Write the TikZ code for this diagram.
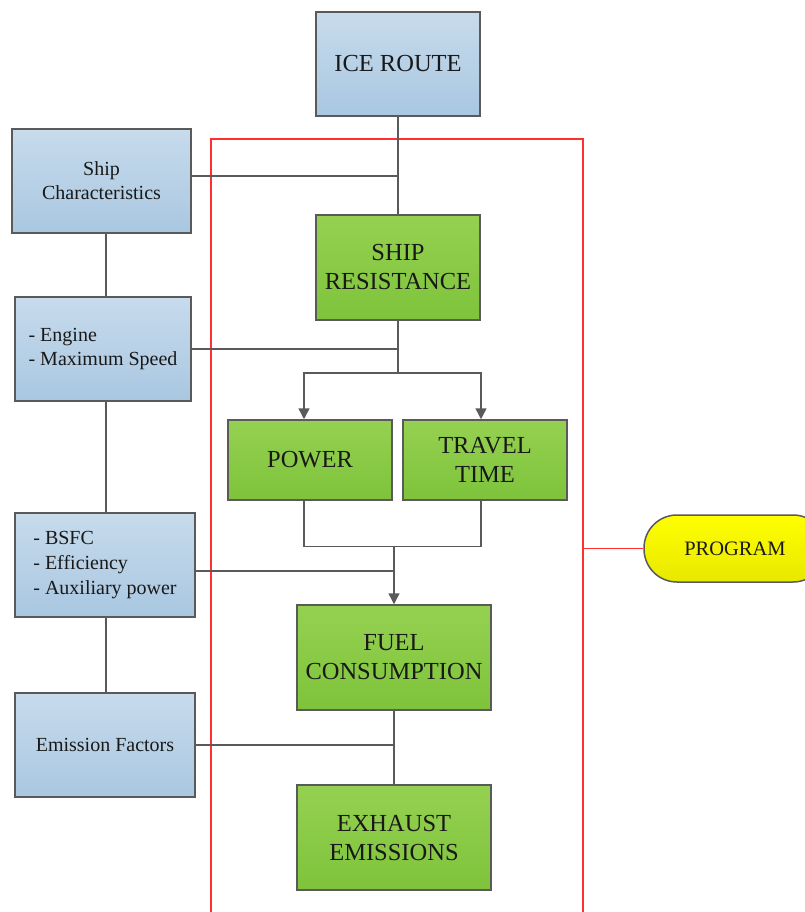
\documentclass[tikz,border=0pt]{standalone}
\usepackage{fontspec}
\setmainfont{Liberation Serif}
\usetikzlibrary{arrows.meta,calc}
\definecolor{blueT}{HTML}{C7DBEC}
\definecolor{blueB}{HTML}{A9C7E1}
\definecolor{greenT}{HTML}{95D151}
\definecolor{greenB}{HTML}{7EC33B}
\definecolor{yelT}{HTML}{FFFF00}
\definecolor{yelB}{HTML}{E8E800}
\definecolor{edge}{HTML}{5A5A5A}
\definecolor{frameRed}{HTML}{FF3030}
\tikzset{
  base/.style={draw=edge, line width=1.5pt, inner sep=2pt, text=black!90},
  bluebox/.style={base, top color=blueT, bottom color=blueB, font=\fontsize{20}{24}\selectfont},
  greenbox/.style={base, top color=greenT, bottom color=greenB, font=\fontsize{24.5}{29}\selectfont, align=center},
  conn/.style={draw=edge, line width=1.5pt},
  arr/.style={conn, -{Triangle[width=11pt,length=11pt]}},
  redline/.style={draw=frameRed, line width=1.6pt},
}
\begin{document}
\begin{tikzpicture}[x=1pt,y=-1pt]
\clip (0,0) rectangle (805,912);
\fill[white] (0,0) rectangle (805,912);
% red frame
\node[redline, minimum width=372pt, minimum height=840pt, inner sep=0pt] (frame) at (397,559) {};
% top
\node[bluebox, minimum width=164pt, minimum height=104pt, font=\fontsize{24.5}{29}\selectfont] (ice) at (398,64) {ICE ROUTE};
% left column
\node[bluebox, minimum width=179pt, minimum height=104pt, align=center] (ship) at (101.5,181) {Ship\\Characteristics};
\node[bluebox, minimum width=176pt, minimum height=104pt, align=left] (engine) at (103,349) {- Engine\\- Maximum Speed};
\node[bluebox, minimum width=180pt, minimum height=104pt, align=left, font=\fontsize{20}{25}\selectfont] (bsfc) at (105,565) {- BSFC\\- Efficiency\\- Auxiliary power};
\node[bluebox, minimum width=180pt, minimum height=104pt] (emis) at (105,745) {Emission Factors};
% green column
\node[greenbox, minimum width=164pt, minimum height=105pt] (res) at (398,267.5) {SHIP\\RESISTANCE};
\node[greenbox, minimum width=164pt, minimum height=80pt] (power) at (310,460) {POWER};
\node[greenbox, minimum width=164pt, minimum height=80pt] (travel) at (485,460) {TRAVEL\\TIME};
\node[greenbox, minimum width=194pt, minimum height=105pt] (fuel) at (394,657.5) {FUEL\\CONSUMPTION};
\node[greenbox, minimum width=194pt, minimum height=105pt] (exh) at (394,837.5) {EXHAUST\\EMISSIONS};
% program
\node[base, draw=edge, top color=yelT, bottom color=yelB, rounded corners=33pt, minimum width=182pt, minimum height=67pt, font=\fontsize{20.5}{24}\selectfont] (prog) at (735,548.5) {PROGRAM};
% connectors
\coordinate (split) at ($(res.south)+(0,52)$);
\coordinate (merge) at ($(fuel.north)+(0,-58)$);
\coordinate (pin) at ($(power.north)+(-6,0)$);
\coordinate (tin) at ($(travel.north)+(-4,0)$);
\coordinate (pout) at ($(power.south)+(-6,0)$);
\coordinate (tout) at ($(travel.south)+(-4,0)$);
\draw[conn] (ice.south) -- (res.north);
\draw[conn] ([yshift=5pt]ship.east) -- ([yshift=5pt]ship.east -| ice.south);
\draw[conn] (ship.south -| 106,0) -- (engine.north -| 106,0);
\draw[conn] (engine.south -| 106,0) -- (bsfc.north -| 106,0);
\draw[conn] (bsfc.south -| 106,0) -- (emis.north -| 106,0);
\draw[conn] (engine.east) -- (engine.east -| res.south);
\draw[conn] (res.south) -- (split);
\draw[arr] (split) -| (pin);
\draw[arr] (split) -| (tin);
\draw[conn] (pout) |- (merge) -| (tout);
\draw[arr] (merge) -- (fuel.north);
\draw[conn] ([yshift=-6pt]bsfc.east) -- ([yshift=-6pt]bsfc.east -| fuel.north);
\draw[conn] (fuel.south) -- (exh.north);
\draw[conn] (emis.east) -- (emis.east -| fuel.south);
\draw[redline] (frame.east |- prog.west) -- (prog.west);
\end{tikzpicture}
\end{document}
